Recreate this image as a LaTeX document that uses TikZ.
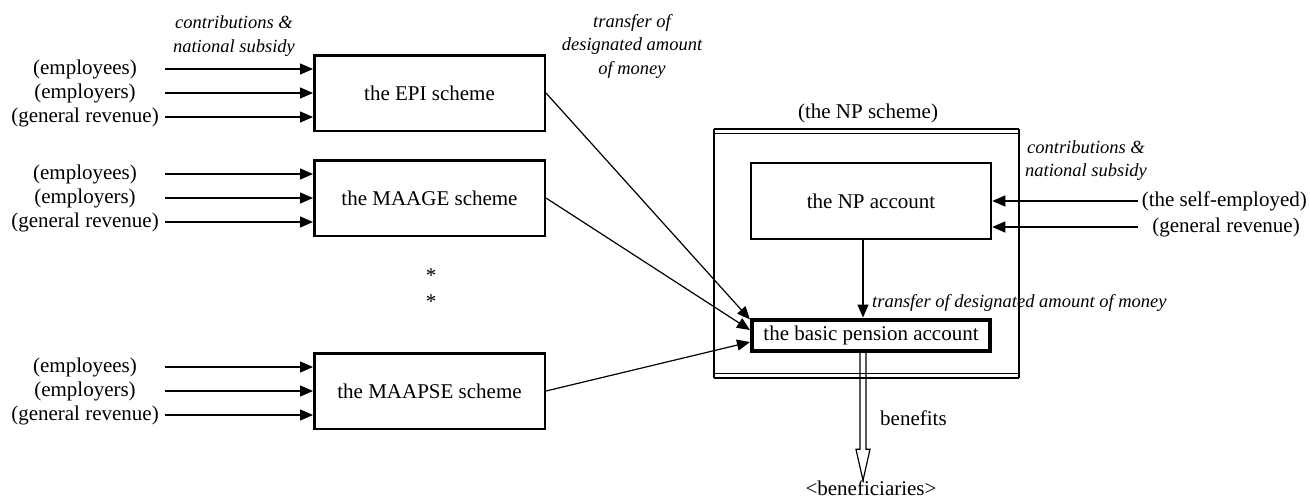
\documentclass[tikz,border=0pt]{standalone}
\usepackage{fontspec}
\setmainfont{Liberation Serif}
\usetikzlibrary{arrows.meta,calc}
\begin{document}
\begin{tikzpicture}[x=1pt,y=-1pt,
  every node/.style={inner sep=0pt},
  txt/.style={font=\fontsize{21}{25}\selectfont},
  itx/.style={font=\fontsize{18.5}{23.5}\selectfont\itshape, align=center},
  scheme/.style={draw, line width=2.5pt, minimum width=230.5pt, minimum height=75.5pt, txt},
  account/.style={draw, line width=2.5pt, minimum width=240pt, minimum height=76pt, txt},
  basic/.style={draw, line width=4pt, minimum width=238pt, minimum height=31pt, txt},
  arr/.style={line width=1.2pt, -{Triangle[length=13pt,width=11pt]}},
  thinline/.style={line width=1.2pt},
  frame/.style={line width=2pt},
  dbl/.style={line width=1.6pt},
]
\useasboundingbox (0,0) rectangle (1310,499);

% left schemes
\node[scheme] (epi) at (429.5,93) {the EPI scheme};
\node[scheme] (maage) at (429.5,198) {the MAAGE scheme};
\node[scheme] (maapse) at (429.5,391) {the MAAPSE scheme};

\coordinate (s) at (165,0);

\node[itx] (contL) at (234,36) {contributions \&\\national subsidy};

\node[txt] (e1) at (85,69) {(employees)};
\node[txt] (r1) at (85,93) {(employers)};
\node[txt] (g1) at (85,117) {(general revenue)};
\node[txt] (e2) at (85,174) {(employees)};
\node[txt] (r2) at (85,198) {(employers)};
\node[txt] (g2) at (85,222) {(general revenue)};
\node[txt] (e3) at (85,367) {(employees)};
\node[txt] (r3) at (85,391) {(employers)};
\node[txt] (g3) at (85,415) {(general revenue)};

\draw[arr] (s |- e1) -- (epi.west |- e1);
\draw[arr] (s |- r1) -- (epi.west |- r1);
\draw[arr] (s |- g1) -- (epi.west |- g1);
\draw[arr] (s |- e2) -- (maage.west |- e2);
\draw[arr] (s |- r2) -- (maage.west |- r2);
\draw[arr] (s |- g2) -- (maage.west |- g2);
\draw[arr] (s |- e3) -- (maapse.west |- e3);
\draw[arr] (s |- r3) -- (maapse.west |- r3);
\draw[arr] (s |- g3) -- (maapse.west |- g3);

\node[txt] (star1) at (431,276) {*};
\node[txt] (star2) at (431,302) {*};

\node[itx] (trans) at (632,46) {transfer of\\designated amount\\of money};

% NP scheme frame
\coordinate (fTL) at (714,129);
\coordinate (fTR) at (1019,129);
\coordinate (fBL) at (714,378);
\coordinate (fBR) at (1019,378);
\draw[dbl] (fTL) -- (fTR);
\draw[dbl] ($(fTL)+(0,4.5)$) -- ($(fTR)+(0,4.5)$);
\draw[dbl] (fBL) -- (fBR);
\draw[dbl] ($(fBL)+(0,-4.5)$) -- ($(fBR)+(0,-4.5)$);
\draw[frame] (fTL) -- (fBL);
\draw[frame] (fTR) -- (fBR);
\node[txt] (nps) at (868,113) {(the NP scheme)};

\node[account] (npa) at (871,201) {the NP account};
\node[basic] (bpa) at (871,335) {the basic pension account};

\node[itx] (contR) at (1086,160.5) {contributions \&\\national subsidy};
\node[txt, anchor=east] (se) at (1307,201) {(the self-employed)};
\node[txt] (gr) at (1226,227) {(general revenue)};
\coordinate (rs) at (1138,0);
\draw[arr] (rs |- se) -- (npa.east |- se);
\draw[arr] (rs |- gr) -- (npa.east |- gr);

\coordinate (vx) at (863,0);
\draw[arr] (npa.south -| vx) -- (bpa.north -| vx);
\node[itx, anchor=west] (tdm) at (872,303) {transfer of designated amount of money};

% scheme to basic account
\draw[arr] (epi.east) -- ($(bpa.north west)+(0,2)$);
\draw[arr] (maage.east) -- ($(bpa.west)+(0,-5)$);
\draw[arr] (maapse.east) -- ($(bpa.west)+(0,7)$);

% benefits
\node[txt] (ben) at (871,488) {<beneficiaries>};
\node[txt, anchor=west] (benl) at (880,418) {benefits};
\coordinate (tip) at (vx |- ben.north);
\draw[thinline, line join=miter]
  ($(bpa.south -| vx)+(-3,0)$) -- ($(tip)+(-3,-31)$) -- ($(tip)+(-7,-31)$)
  -- (tip) -- ($(tip)+(7,-31)$) -- ($(tip)+(3,-31)$) -- ($(bpa.south -| vx)+(3,0)$);
\end{tikzpicture}
\end{document}
